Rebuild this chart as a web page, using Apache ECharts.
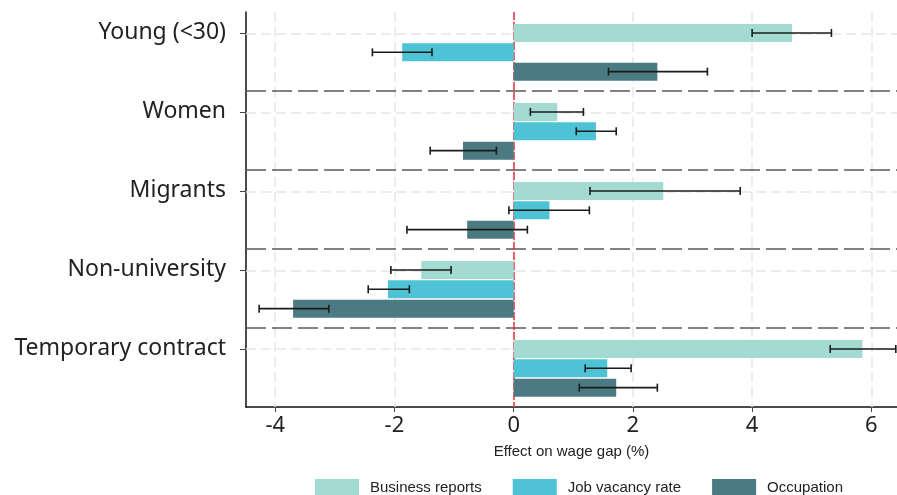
<!DOCTYPE html>
<html>
<head>
<meta charset="utf-8">
<script src="https://cdn.jsdelivr.net/npm/echarts@6/dist/echarts.min.js"></script>
<style>
html, body { margin: 0; padding: 0; background: #fff; }
#chart { width: 897px; height: 495px; }
</style>
</head>
<body>
<div id="chart"></div>
<script>
var groups = ['Young (<30)', 'Women', 'Migrants', 'Non-university', 'Temporary contract']
var seriesNames = ['Business reports', 'Job vacancy rate', 'Occupation']
var colors = ['#a3dad2', '#4dc3d5', '#4b7a82']

// point estimates and 95% interval ends, per group
var businessReports = [4.67, 0.73, 2.51, -1.55, 5.85]
var businessLow     = [4.00, 0.28, 1.28, -2.06, 5.31]
var businessHigh    = [5.33, 1.17, 3.80, -1.05, 6.41]

var vacancyRate = [-1.87, 1.38, 0.60, -2.11, 1.57]
var vacancyLow  = [-2.37, 1.05, -0.08, -2.44, 1.20]
var vacancyHigh = [-1.37, 1.72, 1.27, -1.75, 1.97]

var occupation     = [2.41, -0.85, -0.78, -3.70, 1.72]
var occupationLow  = [1.59, -1.40, -1.79, -4.27, 1.10]
var occupationHigh = [3.25, -0.29, 0.23, -3.10, 2.41]

var xTicks = [-4, -2, 0, 2, 4, 6]

// where each series sits inside its group band (0..1)
var offsets = [0.265, 0.51, 0.755]
var barHeight = 18

var chartDom = document.getElementById('chart')
var myChart = echarts.init(chartDom)

function build(idx, vals, lows, highs) {
  return vals.map(function (v, i) {
    return [v, i + offsets[idx], lows[i], highs[i]]
  })
}

function renderBar(params, api) {
  var y = api.value(1)
  var p0 = api.coord([0, y])
  var p1 = api.coord([api.value(0), y])
  var lo = api.coord([api.value(2), y])
  var hi = api.coord([api.value(3), y])
  var cap = 4
  var errStyle = { stroke: '#1b1b1b', lineWidth: 1.6 }
  return {
    type: 'group',
    children: [
      {
        type: 'rect',
        shape: { x: Math.min(p0[0], p1[0]), y: p0[1] - barHeight / 2, width: Math.abs(p1[0] - p0[0]), height: barHeight },
        style: { fill: api.visual('color') }
      },
      { type: 'line', shape: { x1: lo[0], y1: lo[1], x2: hi[0], y2: hi[1] }, style: errStyle, z2: 5 },
      { type: 'line', shape: { x1: lo[0], y1: lo[1] - cap, x2: lo[0], y2: lo[1] + cap }, style: errStyle, z2: 5 },
      { type: 'line', shape: { x1: hi[0], y1: hi[1] - cap, x2: hi[0], y2: hi[1] + cap }, style: errStyle, z2: 5 }
    ]
  }
}

var allData = [
  build(0, businessReports, businessLow, businessHigh),
  build(1, vacancyRate, vacancyLow, vacancyHigh),
  build(2, occupation, occupationLow, occupationHigh)
]

var series = seriesNames.map(function (name, j) {
  return {
    name: name,
    type: 'custom',
    renderItem: renderBar,
    itemStyle: { color: colors[j] },
    encode: { x: [0, 2, 3], y: 1 },
    data: allData[j],
    zlevel: 1,
    silent: true
  }
})

// light grid, group separators, zero line
var gridLines = xTicks.map(function (v) { return { xAxis: v } })
  .concat(groups.map(function (g, i) { return { yAxis: i + offsets[0] } }))
var sepLines = [1, 2, 3, 4].map(function (v) { return { yAxis: v } })

series.push({
  name: 'grid',
  type: 'line',
  data: [],
  zlevel: 0,
  markLine: {
    silent: true, symbol: 'none', animation: false,
    label: { show: false },
    lineStyle: { color: '#e6e6e6', type: [10, 5], width: 1.5 },
    data: gridLines
  }
})
series.push({
  name: 'sep',
  type: 'line',
  data: [],
  zlevel: 0,
  z: 3,
  markLine: {
    silent: true, symbol: 'none', animation: false,
    label: { show: false },
    lineStyle: { color: '#5a5a5a', type: [20, 6], width: 1.5 },
    data: sepLines
  }
})
series.push({
  name: 'zero',
  type: 'line',
  data: [],
  zlevel: 2,
  markLine: {
    silent: true, symbol: 'none', animation: false,
    label: { show: false },
    lineStyle: { color: '#e8333a', type: [8, 2], width: 1.5 },
    data: [{ xAxis: 0 }]
  }
})

var option = {
  animation: false,
  color: colors,
  grid: { left: 246, right: 0, top: 12, bottom: 88 },
  legend: {
    data: seriesNames,
    left: 315,
    top: 479,
    padding: 0,
    icon: 'rect',
    itemWidth: 44,
    itemHeight: 18,
    itemGap: 31,
    textStyle: { fontFamily: 'Liberation Sans', fontSize: 15, color: '#222', padding: [0, 0, 0, 6] }
  },
  xAxis: {
    type: 'value',
    min: -4.49,
    max: 6.43,
    name: 'Effect on wage gap (%)',
    nameLocation: 'middle',
    nameGap: 37,
    nameTextStyle: { fontFamily: 'Liberation Sans', fontSize: 15, color: '#222' },
    axisLine: { show: true, onZero: false, lineStyle: { color: '#111', width: 1.5 } },
    axisTick: { show: true, length: 5, customValues: xTicks, lineStyle: { color: '#444' } },
    axisLabel: {
      customValues: xTicks,
      margin: 8,
      fontFamily: 'Noto Sans', fontSize: 22, color: '#222',
      formatter: function (v) { return String(v) }
    },
    splitLine: { show: false }
  },
  yAxis: {
    type: 'value',
    inverse: true,
    min: 0,
    max: 5,
    axisLine: { show: true, onZero: false, lineStyle: { color: '#111', width: 1.5 } },
    axisTick: { show: true, length: 6, customValues: groups.map(function (g, i) { return i + offsets[0] }), lineStyle: { color: '#444' } },
    axisLabel: {
      customValues: groups.map(function (g, i) { return i + offsets[0] }),
      margin: 20,
      fontFamily: 'Noto Sans', fontSize: 23, color: '#222',
      formatter: function (v) { return groups[Math.round(v - offsets[0])] }
    },
    splitLine: { show: false }
  },
  series: series
}

option && myChart.setOption(option)
</script>
</body>
</html>
